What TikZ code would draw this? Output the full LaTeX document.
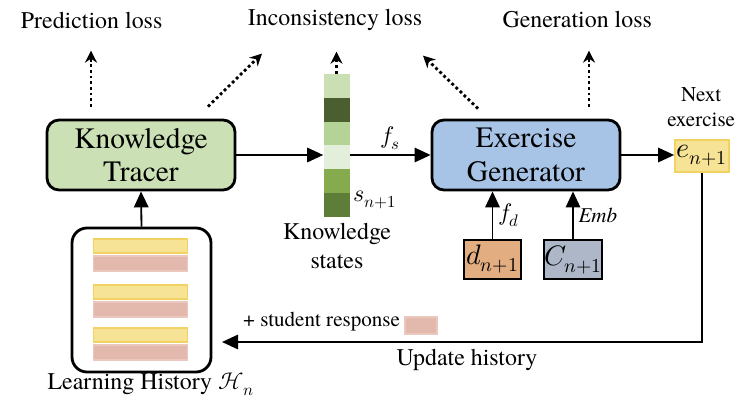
\documentclass[tikz,border=0pt]{standalone}
\usepackage{fontspec}
\usepackage{unicode-math}
\setmainfont{texgyretermes}[Extension=.otf, UprightFont=*-regular,
  ItalicFont=*-italic, BoldFont=*-bold, BoldItalicFont=*-bolditalic]
\setmathfont{Latin Modern Math}
\usetikzlibrary{arrows.meta, positioning}

\definecolor{tracergreen}{HTML}{CCE0B6}
\definecolor{genblue}{HTML}{A7C3E6}
\definecolor{exyellow}{HTML}{F7E396}
\definecolor{exborder}{HTML}{F3D264}
\definecolor{respink}{HTML}{E3B9AD}
\definecolor{respborder}{HTML}{EBC8BE}
\definecolor{difforange}{HTML}{E2AD80}
\definecolor{conceptgray}{HTML}{ADB7C8}
% knowledge state cells, top to bottom
\definecolor{st1}{HTML}{CADFB3}
\definecolor{st2}{HTML}{4B5E2F}
\definecolor{st3}{HTML}{B5D396}
\definecolor{st4}{HTML}{E4EFDB}
\definecolor{st5}{HTML}{85AB4E}
\definecolor{st6}{HTML}{5E7D39}

\begin{document}
\begin{tikzpicture}[x=1cm, y=1cm,
  module/.style={draw, line width=2pt, rounded corners=0.3cm, minimum width=4.7cm,
    minimum height=1.75cm, align=center, font=\fontsize{21}{24}\selectfont},
  inbox/.style={draw, line width=1.6pt, minimum width=1.425cm, minimum height=0.975cm,
    inner sep=0pt, font=\fontsize{20}{24}\selectfont},
  cell/.style={minimum width=0.65cm, minimum height=0.595cm, inner sep=0pt},
  exbar/.style={fill=exyellow, draw=exborder, line width=1.2pt, minimum width=2.35cm,
    minimum height=0.35cm, inner sep=0pt},
  respbar/.style={fill=respink, draw=respborder, line width=1.2pt, minimum width=2.35cm,
    minimum height=0.375cm, inner sep=0pt},
  lbl/.style={font=\fontsize{17}{20}\selectfont, align=center},
  small/.style={font=\fontsize{15}{18}\selectfont, align=center},
  conn/.style={line width=1.3pt, -{Triangle[length=0.4cm, width=0.36cm]}},
  loss/.style={line width=2pt, dotted, -{Stealth[length=0.3cm, width=0.3cm]}}]

\useasboundingbox (0, 0) rectangle (18.625, 10.1);

% Main modules
\node[module, fill=tracergreen] (tracer) at (3.525, 6.225) {Knowledge\\Tracer};
\node[module, fill=genblue] (generator) at (13.15, 6.225) {Exercise\\Generator};

% Knowledge state vector
\foreach \i in {1,...,6}
  \node[cell, fill=st\i] (st\i) at (8.4125, 8.25-0.595*\i+0.2975) {};
\node[lbl] (statelbl) at (8.425, 3.95) {Knowledge\\states};
\node[lbl] (slbl) at (9.375, 5.1) {$s_{n+1}$};

% Inputs of the generator
\node[inbox, fill=difforange] (diff) at (12.3125, 3.6125) {$d_{n+1}$};
\node[inbox, fill=conceptgray] (concept) at (14.325, 3.6125) {$C_{n+1}$};

% Next exercise
\node[fill=exyellow, draw=exborder, line width=1.2pt, minimum width=1.35cm,
  minimum height=0.8cm, inner sep=0pt, font=\fontsize{20}{24}\selectfont] (next) at (17.55, 6.2) {$e_{n+1}$};
\node[small, font=\fontsize{15}{17.7}\selectfont] (nextlbl) at (17.53, 7.42) {Next\\exercise};

% Learning history
\node[draw, line width=2pt, rounded corners=0.375cm, minimum width=3.475cm,
  minimum height=3.6cm] (history) at (3.5375, 2.6) {};
\foreach \y [count=\i] in {3.95, 2.8, 1.725} {
  \node[exbar] (ex\i) at (3.51, \y) {};
  \node[respbar, below=0.03cm of ex\i] (resp\i) {};
}
\node[lbl] (histlbl) at (3.775, 0.5) {Learning History $\mathcal{H}_n$};

% Losses
\node[lbl] (predloss) at (2.29, 9.6) {Prediction loss};
\node[lbl] (incloss) at (8.375, 9.6) {Inconsistency loss};
\node[lbl] (genloss) at (14.43, 9.6) {Generation loss};

\draw[loss] ([xshift=-1.25cm, yshift=0.3cm]tracer.north) -- ++(0, 1.4);
\draw[loss] ([xshift=1.675cm, yshift=0.3cm]tracer.north) -- ++(1.35, 1.325);
\draw[loss] (st1.north) -- ++(0, 0.55);
\draw[loss] ([xshift=-1.2cm, yshift=0.25cm]generator.north) -- ++(-1.375, 1.325);
\draw[loss] ([xshift=1.575cm, yshift=0.3cm]generator.north) -- ++(0, 1.4);

% Forward connections
\draw[conn] (history.north) -- (tracer.south);
\draw[conn] (tracer.east) -- (tracer.east -| st4.west);
\draw[conn] (st4.east |- generator.west) -- node[lbl, above] {$f_s$} (generator.west);
\draw[conn] (diff.north) -- node[lbl, right] {$f_d$} (diff.north |- generator.south);
\draw[conn] (concept.north) -- node[small, right] {$\mathit{Emb}$} (concept.north |- generator.south);
\draw[conn] (generator.east) -- (generator.east -| next.west);

% Feedback to the history
\coordinate (back) at (5.55, 1.55);
\draw[conn] (next.south) |- (back);
\node[small] (resplbl) at (8.04, 2.05) {+ student response};
\node[fill=respink, draw=respborder, line width=1.2pt, minimum width=0.8cm,
  minimum height=0.425cm, inner sep=0pt] (swatch) at (10.525, 1.9625) {};
\node[lbl] (updlbl) at (11.675, 1.1) {Update history};

\end{tikzpicture}
\end{document}
